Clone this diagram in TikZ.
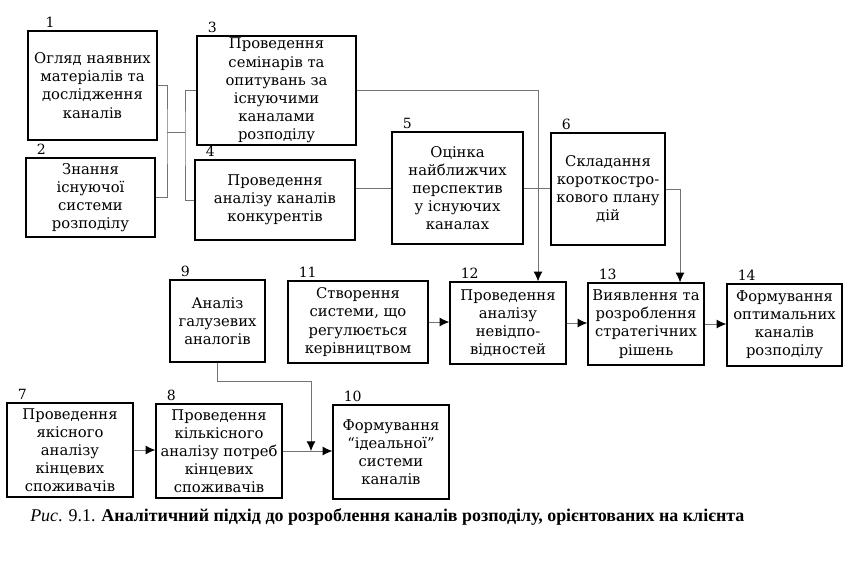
\documentclass[tikz,border=0pt]{standalone}
\usepackage{fontspec}
\setmainfont{DejaVu Serif}
\newfontfamily\capfont{Liberation Serif}
\usetikzlibrary{positioning}
\usetikzlibrary{arrows.meta}
\tikzset{>={Latex[width=2.2mm,length=2.4mm,color=black]}}

\begin{document}
\begin{tikzpicture}[x=0.025cm, y=-0.025cm]
      \tikzstyle{bnode} = [line width=1pt, draw=black, rectangle, inner sep=1pt, align=center, font=\fontsize{10.5}{12.9}\selectfont]
      \tikzstyle{num} = [inner sep=0pt, font=\fontsize{10}{12}\selectfont]
      \tikzstyle{link} = [line width=0.5pt, draw=black!55]

      \useasboundingbox (0,0) rectangle (845,561);

      %%%%%%%%%%%%%%%%%%%%%%%%%%%%%% 
      %% Upper row: boxes 1 to 6
      %%%%%%%%%%%%%%%%%%%%%%%%%%%%%% 
      \node[bnode, minimum width=3.225cm, minimum height=2.725cm] (b1) at (92.5,85.5) {Огляд наявних\\матеріалів та\\дослідження\\каналів};
      \node[bnode, minimum width=3.225cm, minimum height=1.975cm] (b2) at (90.5,197.5) {Знання\\існуючої\\системи\\розподілу};
      \node[bnode, minimum width=3.975cm, minimum height=2.725cm] (b3) at (276.5,90.5) {Проведення\\семінарів та\\опитувань за\\існуючими\\каналами\\розподілу};
      \node[bnode, minimum width=4.0cm, minimum height=2.0cm] (b4) at (275,200) {Проведення\\аналізу каналів\\конкурентів};
      \node[bnode, minimum width=3.275cm, minimum height=2.8cm] (b5) at (457.5,188) {Оцінка\\найближчих\\перспектив\\у існуючих\\каналах};
      \node[bnode, minimum width=2.85cm, minimum height=2.8cm] (b6) at (608,189) {Складання\\короткостро-\\кового плану\\дій};

      %%%%%%%%%%%%%%%%%%%%%%%%%%%%%% 
      %% Middle row: boxes 9, 11 to 14
      %%%%%%%%%%%%%%%%%%%%%%%%%%%%%% 
      \node[bnode, minimum width=2.375cm, minimum height=2.05cm] (b9) at (217.5,321) {Аналіз\\галузевих\\аналогів};
      \node[bnode, minimum width=3.5cm, minimum height=2.05cm] (b11) at (358,322) {Створення\\системи, що\\регулюється\\керівництвом};
      \node[bnode, minimum width=2.9cm, minimum height=2.05cm] (b12) at (508,323) {Проведення\\аналізу\\невідпо-\\відностей};
      \node[bnode, minimum width=2.9cm, minimum height=2.05cm] (b13) at (646,324) {Виявлення та\\розроблення\\стратегічних\\рішень};
      \node[bnode, minimum width=2.875cm, minimum height=2.05cm] (b14) at (784.5,325) {Формування\\оптимальних\\каналів\\розподілу};

      %%%%%%%%%%%%%%%%%%%%%%%%%%%%%% 
      %% Lower row: boxes 7, 8, 10
      %%%%%%%%%%%%%%%%%%%%%%%%%%%%%% 
      \node[bnode, minimum width=3.15cm, minimum height=2.35cm] (b7) at (70,450) {Проведення\\якісного\\аналізу\\кінцевих\\споживачів};
      \node[bnode, minimum width=3.15cm, minimum height=2.35cm] (b8) at (219,451) {Проведення\\кількісного\\аналізу потреб\\кінцевих\\споживачів};
      \node[bnode, minimum width=2.9cm, minimum height=2.35cm] (b10) at (391,452) {Формування\\“ідеальної”\\системи\\каналів};

      % numbers of the boxes
      \node[num, above right=0.06cm and 0.45cm of b1.north west] (n1) {1};
      \node[num, above right=0.06cm and 0.28cm of b2.north west] (n2) {2};
      \node[num, above right=0.06cm and 0.28cm of b3.north west] (n3) {3};
      \node[num, above right=0.06cm and 0.28cm of b4.north west] (n4) {4};
      \node[num, above right=0.06cm and 0.28cm of b5.north west] (n5) {5};
      \node[num, above right=0.06cm and 0.28cm of b6.north west] (n6) {6};
      \node[num, above right=0.06cm and 0.28cm of b9.north west] (n9) {9};
      \node[num, above right=0.06cm and 0.28cm of b11.north west] (n11) {11};
      \node[num, above right=0.06cm and 0.28cm of b12.north west] (n12) {12};
      \node[num, above right=0.06cm and 0.28cm of b13.north west] (n13) {13};
      \node[num, above right=0.06cm and 0.28cm of b14.north west] (n14) {14};
      \node[num, above right=0.06cm and 0.28cm of b7.north west] (n7) {7};
      \node[num, above right=0.06cm and 0.28cm of b8.north west] (n8) {8};
      \node[num, above right=0.06cm and 0.28cm of b10.north west] (n10) {10};

      % junctions
      \coordinate (j1) at (167,132);
      \coordinate (j2) at (185,132);
      \coordinate (j3) at (311,381);

      % edges
      \draw[link] (b1.east) -| (j1) |- (b2.east);
      \draw[link] (j1) -- (j2);
      \draw[link] (b3.west) -| (j2) |- (b4.west);

      \draw[link, ->] (b3.east) -| ([xshift=0.75cm]b12.north);
      \draw[link] (b5.west -| b4.east) -- (b5.west);
      \draw[link] (b5.east) -- (b5.east -| b6.west);
      \draw[link, ->] (b6.east) -| ([xshift=0.85cm]b13.north);

      \draw[link, ->] (b11.east) -- (b11.east -| b12.west);
      \draw[link, ->] (b12.east) -- (b12.east -| b13.west);
      \draw[link, ->] (b13.east) -- (b13.east -| b14.west);

      \draw[link, ->] (b9.south) |- (j3) -- (j3 |- b8.east);
      \draw[link, ->] (b7.east) -- (b7.east -| b8.west);
      \draw[link, ->] (b8.east) -- (b8.east -| b10.west);

      % caption
      \node[anchor=west, inner sep=0pt, font=\capfont\fontsize{12.75}{15}\selectfont] (cap) at (30,517) {\textit{Рис}. 9.1. \textbf{Аналітичний підхід до розроблення каналів розподілу, орієнтованих на клієнта}};
\end{tikzpicture}
\end{document}
